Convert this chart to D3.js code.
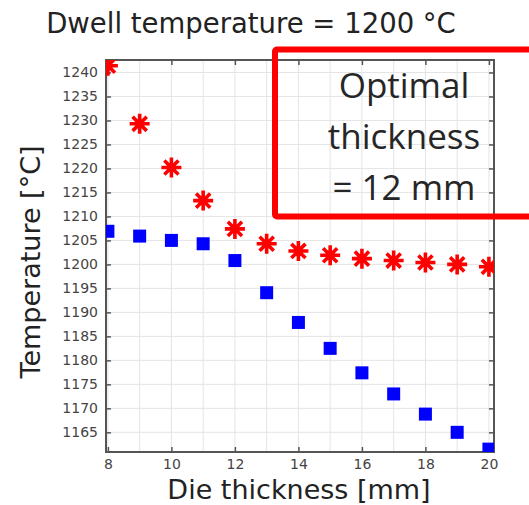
<!DOCTYPE html>
<html lang="en">
<head>
<meta charset="utf-8">
<title>Dwell temperature</title>
<script src="https://d3js.org/d3.v7.min.js"></script>
<style>
  body { margin: 0; background: #fff; }
  svg { display: block; }
</style>
</head>
<body>
<script>
// data
var thickness = [8, 9, 10, 11, 12, 13, 14, 15, 16, 17, 18, 19, 20];
var starTemps = [1241.4, 1229.3, 1220.2, 1213.3, 1207.4, 1204.3, 1202.8, 1201.9, 1201.2, 1200.8, 1200.4, 1200.0, 1199.5];
var squareTemps = [1206.9, 1205.9, 1205.0, 1204.3, 1200.8, 1194.1, 1187.9, 1182.5, 1177.4, 1173.0, 1168.8, 1165.0, 1161.5];
var xTicks = [8, 10, 12, 14, 16, 18, 20];
var yTicks = [1165, 1170, 1175, 1180, 1185, 1190, 1195, 1200, 1205, 1210, 1215, 1220, 1225, 1230, 1235, 1240];
var noteLines = ['Optimal', 'thickness', '= 12 mm'];

var W = 529, H = 505;
// plot box (note: "top" is taken by window.top, so use px* names)
var pxL = 106, pxR = 494, pxT = 60, pxB = 452;

var svg = d3.select('body').append('svg').attr('width', W).attr('height', H);

var x = d3.scaleLinear().domain([7.94, 20.16]).range([pxL, pxR]);
var y = d3.scaleLinear().domain([1160.9, 1242.6]).range([pxB, pxT]);

// grid
var grid = svg.append('g').attr('stroke', '#e4e4e4').attr('stroke-width', 1);
grid.selectAll('line.gx').data(d3.range(8, 21)).enter().append('line')
    .attr('x1', function (d) { return x(d); }).attr('x2', function (d) { return x(d); })
    .attr('y1', pxT).attr('y2', pxB);
grid.selectAll('line.gy').data(yTicks).enter().append('line')
    .attr('y1', function (d) { return y(d); }).attr('y2', function (d) { return y(d); })
    .attr('x1', pxL).attr('x2', pxR);

// axes with inward ticks
function styleAxis(g) {
    g.select('.domain').remove();
    g.selectAll('.tick line').attr('stroke', '#555').attr('stroke-width', 1.5);
    g.selectAll('.tick text').attr('fill', '#444').style('font-family', 'DejaVu Sans').style('font-size', '14px');
}
var fmt = d3.format('d');
svg.append('g').attr('transform', 'translate(0,' + pxB + ')')
    .call(d3.axisBottom(x).tickValues(xTicks).tickFormat(fmt).tickSizeInner(-5).tickSizeOuter(0).tickPadding(7))
    .call(styleAxis);
svg.append('g').attr('transform', 'translate(0,' + pxT + ')')
    .call(d3.axisTop(x).tickValues(xTicks).tickSizeInner(-5).tickSizeOuter(0).tickFormat(''))
    .call(styleAxis);
svg.append('g').attr('transform', 'translate(' + pxL + ',0)')
    .call(d3.axisLeft(y).tickValues(yTicks).tickFormat(fmt).tickSizeInner(-5).tickSizeOuter(0).tickPadding(8))
    .call(styleAxis);
svg.append('g').attr('transform', 'translate(' + pxR + ',0)')
    .call(d3.axisRight(y).tickValues(yTicks).tickSizeInner(-5).tickSizeOuter(0).tickFormat(''))
    .call(styleAxis);

svg.append('rect').attr('x', pxL).attr('y', pxT)
    .attr('width', pxR - pxL).attr('height', pxB - pxT)
    .attr('fill', 'none').attr('stroke', '#555').attr('stroke-width', 2);

// markers, clipped to the plot box
svg.append('clipPath').attr('id', 'plotclip').append('rect')
    .attr('x', pxL).attr('y', pxT).attr('width', pxR - pxL).attr('height', pxB - pxT);
var marks = svg.append('g').attr('clip-path', 'url(#plotclip)');

var sq = 13;
marks.selectAll('rect.sq').data(thickness).enter().append('rect')
    .attr('x', function (d) { return x(d) - sq / 2; })
    .attr('y', function (d, i) { return y(squareTemps[i]) - sq / 2; })
    .attr('width', sq).attr('height', sq)
    .attr('fill', '#0000ff');

var r = 10, rd = r * Math.SQRT1_2;
var starPath = 'M' + (-r) + ',0L' + r + ',0M0,' + (-r) + 'L0,' + r +
    'M' + (-rd) + ',' + (-rd) + 'L' + rd + ',' + rd +
    'M' + (-rd) + ',' + rd + 'L' + rd + ',' + (-rd);
marks.selectAll('path.star').data(thickness).enter().append('path')
    .attr('d', starPath)
    .attr('transform', function (d, i) { return 'translate(' + x(d) + ',' + y(starTemps[i]) + ')'; })
    .attr('fill', 'none').attr('stroke', '#ff0000').attr('stroke-width', 3.6);

// labels
svg.append('text').attr('x', 251).attr('y', 33).attr('text-anchor', 'middle')
    .style('font-family', 'DejaVu Sans').style('font-size', '27.5px').attr('fill', '#222')
    .text('Dwell temperature = 1200 \u00b0C');
svg.append('text').attr('x', 299).attr('y', 499).attr('text-anchor', 'middle')
    .style('font-family', 'DejaVu Sans').style('font-size', '27px').attr('fill', '#222')
    .text('Die thickness [mm]');
svg.append('text').attr('transform', 'translate(40,262) rotate(-90)').attr('text-anchor', 'middle')
    .style('font-family', 'DejaVu Sans').style('font-size', '27px').attr('fill', '#222')
    .text('Temperature [\u00b0C]');

// annotation box
svg.append('rect').attr('x', 275).attr('y', 49.5).attr('width', 280).attr('height', 167)
    .attr('fill', 'none').attr('stroke', '#ff0000').attr('stroke-width', 6).attr('rx', 2);
svg.append('g').selectAll('text').data(noteLines).enter().append('text')
    .attr('x', 404).attr('y', function (d, i) { return 98 + i * 51; })
    .attr('text-anchor', 'middle')
    .style('font-family', 'Open Sans').style('font-size', '35px').attr('fill', '#262626')
    .text(function (d) { return d; });
</script>
</body>
</html>
